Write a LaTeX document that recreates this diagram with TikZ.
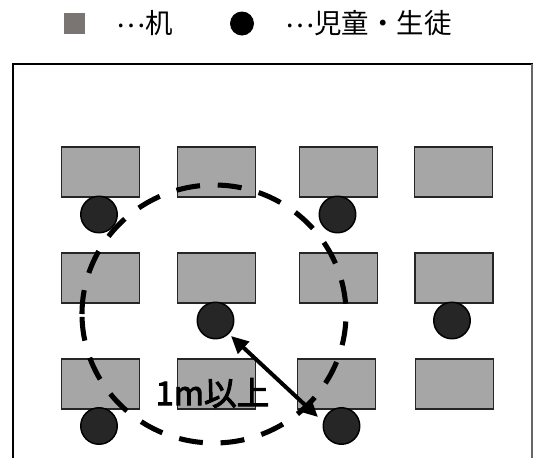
\documentclass[tikz,border=0pt]{standalone}
\usepackage{fontspec}
\setmainfont{Noto Sans CJK JP}
\newfontfamily\rangefont[FakeBold=3]{Noto Sans CJK JP}
\usetikzlibrary{arrows.meta}
\definecolor{deskgray}{HTML}{A6A6A6}
\definecolor{keygray}{HTML}{7A7472}
\definecolor{pupilgray}{HTML}{262626}
\setlength{\unitlength}{0.75pt}
\newcommand{\middots}{\raisebox{0.22em}{⋯}}
\tikzset{
	 desk/.style={draw=black!85, fill=deskgray, line width=1pt, minimum width=78\unitlength, minimum height=50\unitlength, inner sep=0pt},
	 pupil/.style={circle, draw=black, fill=pupilgray, line width=1.1pt, minimum size=36.5\unitlength, inner sep=0pt},
	 legendtext/.style={font=\fontsize{20.6}{22}\selectfont, anchor=west, inner sep=0pt}}
\begin{document}
\begin{tikzpicture}[x=0.75pt, y=-0.75pt]
	 \useasboundingbox (0,0) rectangle (533,458);
	 % legend
	 \node (keydesk) at (74,23.5) [fill=keygray, minimum size=21\unitlength, inner sep=0pt] {};
	 \node (keytxt1) at (116,23.5) [legendtext] {\middots 机};
	 \node (keypupil) at (242,23.5) [circle, fill=black, minimum size=24\unitlength, inner sep=0pt] {};
	 \node (keytxt2) at (285,23.5) [legendtext] {\middots 児童・生徒};
	 % room
	 \draw[line width=1.3pt] (13,458) -- (13,64) -- (533,64);
	 \draw[line width=1pt, black!60] (532,64) -- (532,458);
	 % desks
	 \foreach \row/\col/\xpos/\ypos in {a/1/100.5/172, a/2/216.5/172, a/3/338.5/172, a/4/453.5/172,
	    b/1/100.5/278, b/2/216.5/278, b/3/338.5/278, b/4/454/278,
	    c/1/100.5/384, c/2/216.5/384, c/3/336.5/384, c/4/454.5/384}
	    \node (desk\row\col) at (\xpos,\ypos) [desk] {};
	 % pupils
	 \node (pupila) at (99,214.5) [pupil] {};
	 \node (pupilb) at (337.5,214.5) [pupil] {};
	 \node (pupilc) at (215.5,320.5) [pupil] {};
	 \node (pupild) at (452,320.5) [pupil] {};
	 \node (pupile) at (99,426) [pupil] {};
	 \node (pupilf) at (341.5,426) [pupil] {};
	 % range
	 \coordinate (rangewest) at (82,314);
	 \draw[line width=3.8pt, dash pattern=on 24\unitlength off 17.75\unitlength] (rangewest) arc[start angle=180, end angle=540, x radius=132, y radius=129];
	 \coordinate (tipc) at (231,336);
	 \coordinate (tipf) at (318,417);
	 \draw[{Triangle[length=13pt,width=12pt]}-{Triangle[length=13pt,width=12pt]}, line width=3pt] (tipc) -- (tipf);
	 \node (distance) at (212.5,393) [font=\rangefont\fontsize{24.5}{26}\selectfont, inner sep=0pt] {1m以上};
\end{tikzpicture}
\end{document}
